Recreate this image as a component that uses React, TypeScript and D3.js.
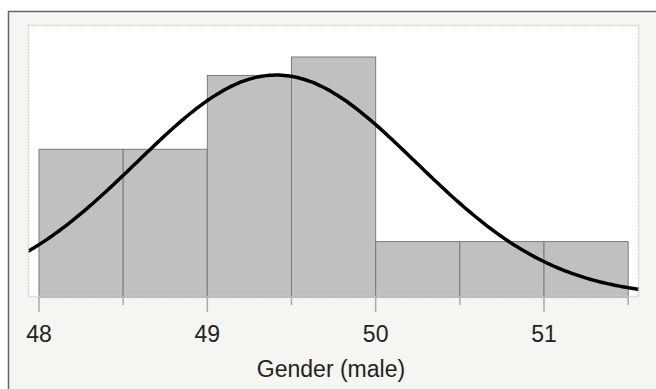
import React from 'react';
import * as d3 from 'd3';

// histogram bins (lower edge) and counts
const binStarts = [48, 48.5, 49, 49.5, 50, 50.5, 51];
const binWidth = 0.5;
const counts = [8, 8, 12, 13, 3, 3, 3];
const majorTicks = [48, 49, 50, 51];
const minorTicks = [48.5, 49.5, 50.5, 51.5];
const xTitle = 'Gender (male)';

const W = 656;
const H = 389;
const plot = { left: 28, right: 639, top: 25, bottom: 297 };

const App = () => {
  // x: 48 sits at 39px, 51 at 544px
  const pxPerUnit = (544 - 39) / 3;
  const x = d3
    .scaleLinear()
    .domain([48 - (39 - plot.left) / pxPerUnit, 48 + (plot.right - 39) / pxPerUnit])
    .range([plot.left, plot.right]);
  const y = d3
    .scaleLinear()
    .domain([0, (plot.bottom - plot.top) / (240 / 13)])
    .range([plot.bottom, plot.top]);

  // normal fit from the binned data
  const n = d3.sum(counts);
  const mids = binStarts.map((b) => b + binWidth / 2);
  const mean = d3.sum(mids, (m, i) => m * counts[i]) / n;
  const variance = d3.sum(mids, (m, i) => counts[i] * (m - mean) ** 2) / (n - 1);
  const sd = Math.sqrt(variance);
  const dens = (v: number) =>
    (n * binWidth) / (sd * Math.sqrt(2 * Math.PI)) * Math.exp(-0.5 * ((v - mean) / sd) ** 2);
  const [x0, x1] = x.domain();
  const curvePts = d3.range(0, 201).map((i) => x0 + ((x1 - x0) * i) / 200);
  const line = d3
    .line<number>()
    .x((v) => x(v))
    .y((v) => y(dens(v)))
    .curve(d3.curveBasis);

  return (
    <div style={{ position: 'absolute', left: 0, top: 0 }}>
      <svg width={W} height={H} style={{ display: 'block' }}>
        <rect x={0} y={0} width={W} height={H} fill="#ffffff" />
        <rect x={8.5} y={11.5} width={W + 10} height={H + 10} fill="#f5f5f1" stroke="#666" strokeWidth={1.5} />
        <rect x={plot.left} y={plot.top} width={plot.right - plot.left} height={plot.bottom - plot.top} fill="#fff" />
        <defs>
          <clipPath id="plotclip">
            <rect x={plot.left} y={plot.top - 5} width={plot.right - plot.left} height={plot.bottom - plot.top + 5} />
          </clipPath>
        </defs>
        {binStarts.map((b, i) => (
          <rect
            key={b}
            x={x(b)}
            y={y(counts[i])}
            width={x(b + binWidth) - x(b)}
            height={y(0) - y(counts[i])}
            fill="#c0c0c0"
            stroke="#7a7a7a"
            strokeWidth={1}
          />
        ))}
        <path d={line(curvePts) || ''} fill="none" stroke="#000" strokeWidth={3.5} clipPath="url(#plotclip)" />
        <rect
          x={plot.left + 0.5}
          y={plot.top + 0.5}
          width={plot.right - plot.left - 1}
          height={plot.bottom - plot.top - 1}
          fill="none"
          stroke="#cfcfcf"
          strokeWidth={1.5}
          strokeDasharray="2 1"
        />
        {majorTicks.map((t) => (
          <g key={t}>
            <line x1={x(t)} x2={x(t)} y1={plot.bottom} y2={plot.bottom + 15} stroke="#aaa" strokeWidth={1.5} />
            <text
              x={x(t)}
              y={342}
              textAnchor="middle"
              fontFamily="Liberation Sans, Arial, sans-serif"
              fontSize={23}
              fill="#222"
            >
              {t}
            </text>
          </g>
        ))}
        {minorTicks.map((t) => (
          <line key={t} x1={x(t)} x2={x(t)} y1={plot.bottom} y2={plot.bottom + 8} stroke="#aaa" strokeWidth={1.5} />
        ))}
        <text
          x={331}
          y={377}
          textAnchor="middle"
          fontFamily="Liberation Sans, Arial, sans-serif"
          fontSize={23}
          fill="#222"
        >
          {xTitle}
        </text>
      </svg>
    </div>
  );
};

export default App;
